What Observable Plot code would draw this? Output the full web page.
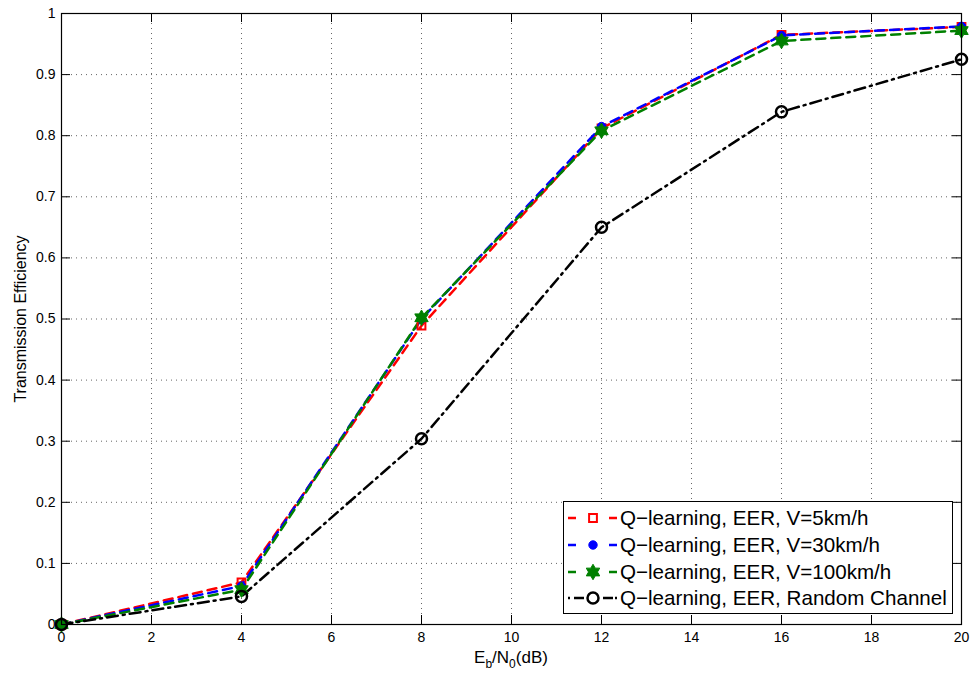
<!DOCTYPE html>
<html><head><meta charset="utf-8">
<script src="https://cdn.jsdelivr.net/npm/d3@7"></script>
<script src="https://cdn.jsdelivr.net/npm/@observablehq/plot@0.6"></script>
<style>body{margin:0;background:#fff} #chart{width:971px;height:675px}</style>
</head><body><div id="chart"></div>
<script>
// ---- data ----
const ebn0 = [0, 4, 8, 12, 16, 20];
const eff5 = [0, 0.069, 0.489, 0.812, 0.965, 0.978];
const eff30 = [0, 0.063, 0.500, 0.815, 0.964, 0.979];
const eff100 = [0, 0.057, 0.502, 0.808, 0.955, 0.972];
const effRandom = [0, 0.046, 0.304, 0.650, 0.839, 0.925];
const seriesNames = [
  "Q\u2212learning, EER, V=5km/h",
  "Q\u2212learning, EER, V=30km/h",
  "Q\u2212learning, EER, V=100km/h",
  "Q\u2212learning, EER, Random Channel"
];
const xTicks = [0, 2, 4, 6, 8, 10, 12, 14, 16, 18, 20];
const yTicks = [0, 0.1, 0.2, 0.3, 0.4, 0.5, 0.6, 0.7, 0.8, 0.9, 1];
const yTickLabels = ["0", "0.1", "0.2", "0.3", "0.4", "0.5", "0.6", "0.7", "0.8", "0.9", "1"];
const xLabel = ["E", "b", "/N", "0", "(dB)"];
const yLabel = "Transmission Efficiency";

// ---- styles ----
const FONT = "Liberation Sans, Arial, Helvetica, sans-serif";
const W = 971, H = 675, ML = 61, MR = 10, MT = 13, MB = 51;
const IW = W - ML - MR, IH = H - MT - MB;
const TICK = 9;

const hexagram = {
  draw(ctx, size) {
    const R = Math.sqrt(size / Math.PI) * 1.25, r = R / Math.sqrt(3);
    for (let i = 0; i < 12; i++) {
      const a = Math.PI / 2 + i * Math.PI / 6;
      const rr = i % 2 === 0 ? R : r;
      const x = rr * Math.cos(a), y = -rr * Math.sin(a);
      if (i === 0) ctx.moveTo(x, y); else ctx.lineTo(x, y);
    }
    ctx.closePath();
  }
};

const styles = [
  {values: eff5, color: "#ff0000", dash: "9,6", symbol: "square", r: 4.4, fill: "none", sw: 2},
  {values: eff30, color: "#0000ff", dash: "9,6", symbol: "circle", r: 4.2, fill: "#0000ff", sw: 1},
  {values: eff100, color: "#008000", dash: "9,6", symbol: hexagram, r: 6.2, fill: "#008000", sw: 1},
  {values: effRandom, color: "#000000", dash: "11,5,2,5", symbol: "circle", r: 5.5, fill: "none", sw: 2.5}
];

const seriesRows = styles.map((s, k) => ebn0.map((x, i) => ({x, y: s.values[i], series: seriesNames[k]})));

const marks = [
  Plot.gridX(xTicks, {stroke: "#666", strokeOpacity: 1, strokeDasharray: "1,4"}),
  Plot.gridY(yTicks, {stroke: "#666", strokeOpacity: 1, strokeDasharray: "1,4"}),
  Plot.tickX(xTicks, {x: d => d, insetTop: IH - TICK, stroke: "black"}),
  Plot.tickX(xTicks, {x: d => d, insetBottom: IH - TICK, stroke: "black"}),
  Plot.tickY(yTicks, {y: d => d, insetRight: IW - TICK, stroke: "black"}),
  Plot.tickY(yTicks, {y: d => d, insetLeft: IW - TICK, stroke: "black"}),
  Plot.axisX(xTicks, {tickSize: 0, tickPadding: 8, fontSize: 14, label: null}),
  Plot.axisY(yTicks, {tickSize: 0, tickPadding: 6, fontSize: 14, label: null, tickFormat: (d, i) => yTickLabels[i]})
];
styles.forEach((s, k) => {
  marks.push(Plot.line(seriesRows[k], {x: "x", y: "y", stroke: s.color, strokeWidth: 2.5, strokeDasharray: s.dash}));
});
styles.forEach((s, k) => {
  marks.push(Plot.dot(seriesRows[k], {x: "x", y: "y", symbol: () => s.symbol, r: s.r, stroke: s.color, fill: s.fill, strokeWidth: s.sw}));
});
marks.push(Plot.frame({stroke: "black", strokeWidth: 1.2}));

const svg = Plot.plot({
  width: W, height: H,
  marginLeft: ML, marginRight: MR, marginTop: MT, marginBottom: MB,
  x: {domain: [0, 20]},
  y: {domain: [0, 1]},
  symbol: {type: "identity"},
  style: {fontFamily: FONT, background: "white", color: "black", overflow: "visible"},
  marks
});
document.getElementById("chart").appendChild(svg);

// ---- axis titles ----
const s = d3.select(svg);
const xt = s.append("text").attr("x", 511).attr("y", 663).attr("text-anchor", "middle")
  .attr("font-family", FONT).attr("font-size", 17).attr("fill", "black");
xt.append("tspan").text(xLabel[0]);
xt.append("tspan").attr("dy", 5).attr("font-size", 12).text(xLabel[1]);
xt.append("tspan").attr("dy", -5).text(xLabel[2]);
xt.append("tspan").attr("dy", 5).attr("font-size", 12).text(xLabel[3]);
xt.append("tspan").attr("dy", -5).text(xLabel[4]);

s.append("text").attr("transform", "translate(26,319) rotate(-90)").attr("text-anchor", "middle")
  .attr("font-family", FONT).attr("font-size", 16).attr("fill", "black").text(yLabel);

// ---- legend ----
const lg = s.append("g");
lg.append("rect").attr("x", 563.5).attr("y", 501.5).attr("width", 389).attr("height", 112)
  .attr("fill", "white").attr("stroke", "black").attr("stroke-width", 1);
const rowY = [518, 545, 572, 598];
styles.forEach((st, k) => {
  const y = rowY[k];
  lg.append("path").attr("d", `M568,${y}H617`)
    .attr("fill", "none").attr("stroke", st.color).attr("stroke-width", 2.5)
    .attr("stroke-dasharray", k < 3 ? "8,33,8" : "2,4,10,19,10");
  const symType = st.symbol === "square" ? d3.symbolSquare : st.symbol === "circle" ? d3.symbolCircle : hexagram;
  lg.append("path").attr("d", d3.symbol(symType, Math.PI * st.r * st.r)())
    .attr("transform", `translate(593,${y})`)
    .attr("fill", st.fill === "none" ? "white" : st.fill).attr("stroke", st.color).attr("stroke-width", st.sw);
  lg.append("text").attr("x", 620).attr("y", y).attr("dy", "0.36em").attr("text-anchor", "start")
    .attr("font-family", FONT).attr("font-size", 20.6).attr("fill", "black").text(seriesNames[k]);
});
</script>
</body></html>
